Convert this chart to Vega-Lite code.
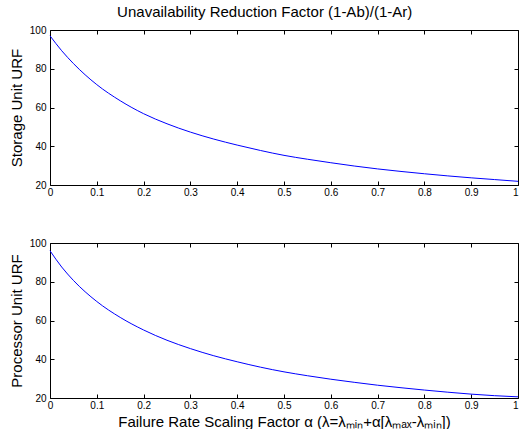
{
  "$schema": "https://vega.github.io/schema/vega-lite/v6.json",
  "padding": {"left": 9, "top": 4, "right": 0, "bottom": 0},
  "bounds": "flush",
  "spacing": 58,
  "title": {"text": "Unavailability Reduction Factor (1-Ab)/(1-Ar)", "fontSize": 15, "fontWeight": "normal", "color": "black", "font": "Liberation Sans", "anchor": "middle", "offset": 5.5},
  "datasets": {
    "storage": [
      {"alpha": 0, "urf": 97},
      {"alpha": 0.025, "urf": 89.3},
      {"alpha": 0.05, "urf": 82.7},
      {"alpha": 0.1, "urf": 71.8},
      {"alpha": 0.15, "urf": 63.5},
      {"alpha": 0.2, "urf": 56.8},
      {"alpha": 0.25, "urf": 51.6},
      {"alpha": 0.3, "urf": 47.3},
      {"alpha": 0.35, "urf": 43.7},
      {"alpha": 0.4, "urf": 40.6},
      {"alpha": 0.45, "urf": 37.8},
      {"alpha": 0.5, "urf": 35.3},
      {"alpha": 0.55, "urf": 33.3},
      {"alpha": 0.6, "urf": 31.5},
      {"alpha": 0.65, "urf": 29.8},
      {"alpha": 0.7, "urf": 28.3},
      {"alpha": 0.75, "urf": 27.0},
      {"alpha": 0.8, "urf": 25.8},
      {"alpha": 0.85, "urf": 24.7},
      {"alpha": 0.9, "urf": 23.7},
      {"alpha": 0.95, "urf": 22.8},
      {"alpha": 1, "urf": 21.9}
    ],
    "processor": [
      {"alpha": 0, "urf": 96},
      {"alpha": 0.025, "urf": 87.6},
      {"alpha": 0.05, "urf": 80.7},
      {"alpha": 0.1, "urf": 69.8},
      {"alpha": 0.15, "urf": 61.6},
      {"alpha": 0.2, "urf": 55.1},
      {"alpha": 0.25, "urf": 49.8},
      {"alpha": 0.3, "urf": 45.5},
      {"alpha": 0.35, "urf": 41.8},
      {"alpha": 0.4, "urf": 38.7},
      {"alpha": 0.45, "urf": 35.9},
      {"alpha": 0.5, "urf": 33.5},
      {"alpha": 0.55, "urf": 31.5},
      {"alpha": 0.6, "urf": 29.7},
      {"alpha": 0.65, "urf": 28.1},
      {"alpha": 0.7, "urf": 26.6},
      {"alpha": 0.75, "urf": 25.3},
      {"alpha": 0.8, "urf": 24.1},
      {"alpha": 0.85, "urf": 23.0},
      {"alpha": 0.9, "urf": 22.0},
      {"alpha": 0.95, "urf": 21.2},
      {"alpha": 1, "urf": 20.6}
    ]
  },
  "vconcat": [
    {
      "width": 468,
      "height": 155,
      "data": {"name": "storage"},
      "layer": [
        {
          "mark": {"type": "line", "color": "#0000ff", "strokeWidth": 1, "interpolate": "monotone"},
          "encoding": {
            "x": {"field": "alpha", "type": "quantitative", "scale": {"domain": [0, 1], "nice": false},
                  "axis": {"orient": "bottom", "values": [0, 0.1, 0.2, 0.3, 0.4, 0.5, 0.6, 0.7, 0.8, 0.9, 1], "format": "~g", "title": null,
                           "labelAlign": {"condition": {"test": "datum.value == 1", "value": "right"}, "value": "center"}}},
            "y": {"field": "urf", "type": "quantitative", "scale": {"domain": [20, 100], "nice": false},
                  "axis": {"orient": "left", "values": [20, 40, 60, 80, 100], "title": "Storage Unit URF"}}
          }
        },
        {
          "mark": {"type": "line", "strokeOpacity": 0},
          "encoding": {
            "x": {"field": "alpha", "type": "quantitative", "scale": {"domain": [0, 1], "nice": false},
                  "axis": {"orient": "top", "values": [0, 0.1, 0.2, 0.3, 0.4, 0.5, 0.6, 0.7, 0.8, 0.9, 1], "labels": false, "title": null}},
            "y": {"field": "urf", "type": "quantitative", "scale": {"domain": [20, 100], "nice": false},
                  "axis": {"orient": "right", "values": [20, 40, 60, 80, 100], "labels": false, "title": null}}
          }
        }
      ],
      "resolve": {"axis": {"x": "independent", "y": "independent"}}
    },
    {
      "width": 468,
      "height": 155,
      "data": {"name": "processor"},
      "layer": [
        {
          "mark": {"type": "line", "color": "#0000ff", "strokeWidth": 1, "interpolate": "monotone"},
          "encoding": {
            "x": {"field": "alpha", "type": "quantitative", "scale": {"domain": [0, 1], "nice": false},
                  "axis": {"orient": "bottom", "values": [0, 0.1, 0.2, 0.3, 0.4, 0.5, 0.6, 0.7, 0.8, 0.9, 1], "format": "~g",
                           "title": "Failure Rate Scaling Factor α (λ=λₘᵢₙ+α[λₘₐₓ-λₘᵢₙ])",
                           "labelAlign": {"condition": {"test": "datum.value == 1", "value": "right"}, "value": "center"}}},
            "y": {"field": "urf", "type": "quantitative", "scale": {"domain": [20, 100], "nice": false},
                  "axis": {"orient": "left", "values": [20, 40, 60, 80, 100], "title": "Processor Unit URF"}}
          }
        },
        {
          "mark": {"type": "line", "strokeOpacity": 0},
          "encoding": {
            "x": {"field": "alpha", "type": "quantitative", "scale": {"domain": [0, 1], "nice": false},
                  "axis": {"orient": "top", "values": [0, 0.1, 0.2, 0.3, 0.4, 0.5, 0.6, 0.7, 0.8, 0.9, 1], "labels": false, "title": null}},
            "y": {"field": "urf", "type": "quantitative", "scale": {"domain": [20, 100], "nice": false},
                  "axis": {"orient": "right", "values": [20, 40, 60, 80, 100], "labels": false, "title": null}}
          }
        }
      ],
      "resolve": {"axis": {"x": "independent", "y": "independent"}}
    }
  ],
  "config": {
    "font": "Liberation Sans",
    "view": {"stroke": null},
    "axis": {
      "grid": false,
      "domainColor": "black",
      "domainWidth": 1,
      "tickColor": "black",
      "tickSize": -4,
      "tickWidth": 1,
      "labelFont": "Liberation Sans",
      "labelFontSize": 10,
      "labelColor": "black",
      "titleFont": "Liberation Sans",
      "titleFontSize": 15,
      "titleFontWeight": "normal",
      "titleColor": "black"
    },
    "axisX": {"labelPadding": 6, "titlePadding": 4},
    "axisY": {"labelPadding": 8, "titlePadding": 5}
  }
}
